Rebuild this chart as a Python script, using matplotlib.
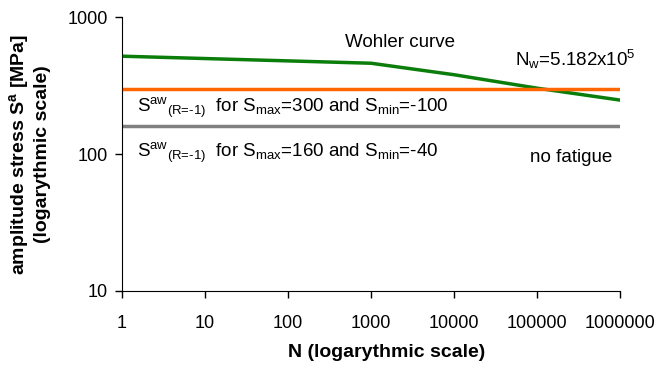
import matplotlib
matplotlib.use("Agg")
import matplotlib.pyplot as plt
from matplotlib.ticker import FixedLocator, NullLocator

plt.rcParams['font.family'] = ['Liberation Sans', 'DejaVu Sans']
plt.rcParams['mathtext.fontset'] = 'custom'
plt.rcParams['mathtext.rm'] = 'Liberation Sans'
plt.rcParams['mathtext.it'] = 'Liberation Sans'
plt.rcParams['mathtext.bf'] = 'Liberation Sans:bold'

# data
n_wohler = [1, 1000, 10000, 100000, 1000000]
s_wohler = [519, 461, 380, 303, 248]
n_range = [1, 1000000]
s_case1 = [300, 300]
s_case2 = [160, 160]
x_ticks = [1, 10, 100, 1000, 10000, 100000, 1000000]
y_ticks = [10, 100, 1000]

fig = plt.figure(figsize=(6.59, 3.66), dpi=100)
ax = fig.add_axes([0.185, 0.205, 0.756, 0.748])

ax.plot(n_wohler, s_wohler, color='#0a7d0a', lw=2.5)
ax.plot(n_range, s_case1, color='#ff6600', lw=2.5)
ax.plot(n_range, s_case2, color='#808080', lw=2.5)

ax.set_xscale('log')
ax.set_yscale('log')
ax.set_xlim(1, 1000000)
ax.set_ylim(10, 1000)
ax.xaxis.set_major_locator(FixedLocator(x_ticks))
ax.yaxis.set_major_locator(FixedLocator(y_ticks))
ax.set_xticklabels([str(v) for v in x_ticks])
ax.set_yticklabels([str(v) for v in y_ticks])
ax.xaxis.set_minor_locator(NullLocator())
ax.yaxis.set_minor_locator(NullLocator())
ax.tick_params(labelsize=13, length=5, width=1, direction='out')
ax.tick_params(axis='x', pad=12)
ax.tick_params(axis='y', pad=5)
for s in ['top', 'right']:
    ax.spines[s].set_visible(False)

ax.set_xlabel('N (logarythmic scale)', fontsize=14, fontweight='bold')
ax.xaxis.set_label_coords(0.532, -0.195)
ax.set_ylabel('amplitude stress S$^{\\mathbf{a}}$ [MPa]\n(logarythmic scale)',
              fontsize=14, fontweight='bold', labelpad=12, linespacing=1.25)

fs = 13.5
ax.text(0.448, 0.891, 'Wohler curve', transform=ax.transAxes, fontsize=fs, va='baseline')
ax.text(0.789, 0.82, 'N$_\\mathrm{w}$=5.182x10$^5$', transform=ax.transAxes, fontsize=fs,
        va='baseline')
ax.text(0.03, 0.652,
        'S$^{\\mathrm{aw}}{}_{\\text{(R=-1)}}$  for S$_\\mathrm{max}$=300 and S$_\\mathrm{min}$=-100',
        transform=ax.transAxes, fontsize=fs, va='baseline')
ax.text(0.03, 0.49,
        'S$^{\\mathrm{aw}}{}_{\\text{(R=-1)}}$  for S$_\\mathrm{max}$=160 and S$_\\mathrm{min}$=-40',
        transform=ax.transAxes, fontsize=fs, va='baseline')
ax.text(0.819, 0.471, 'no fatigue', transform=ax.transAxes, fontsize=fs, va='baseline')

fig.savefig('out.png', dpi=100)
